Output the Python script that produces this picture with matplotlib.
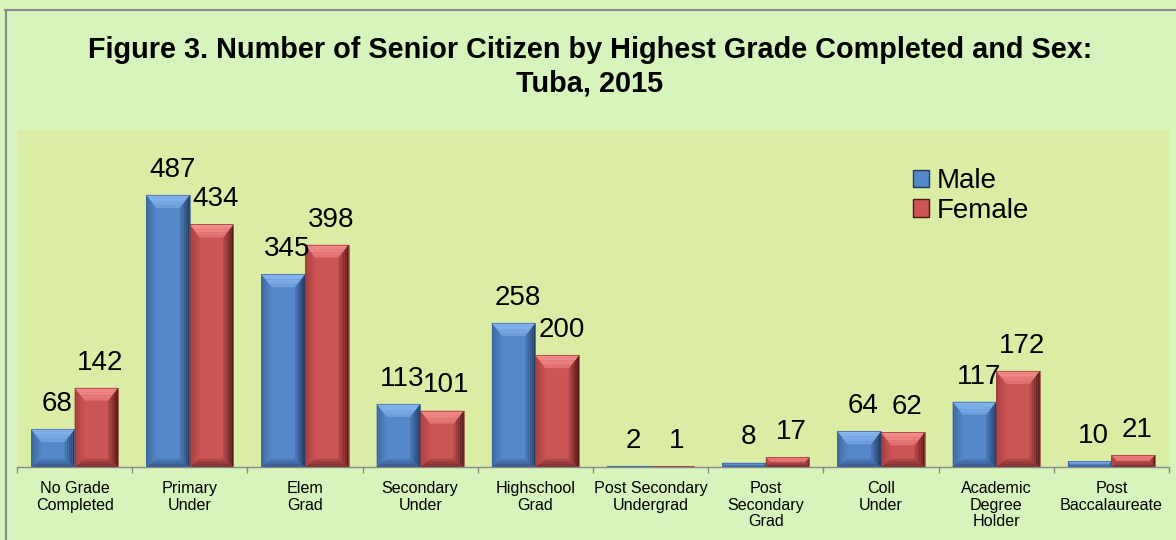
import matplotlib
matplotlib.use("Agg")
import matplotlib.pyplot as plt
from matplotlib.patches import Polygon, Rectangle
from matplotlib.lines import Line2D
from matplotlib.colors import to_rgb
import numpy as np

categories = ["No Grade\nCompleted", "Primary\nUnder", "Elem\nGrad", "Secondary\nUnder",
              "Highschool\nGrad", "Post Secondary\nUndergrad", "Post\nSecondary\nGrad",
              "Coll\nUnder", "Academic\nDegree\nHolder", "Post\nBaccalaureate"]
male = [68, 487, 345, 113, 258, 2, 8, 64, 117, 10]
female = [142, 434, 398, 101, 200, 1, 17, 62, 172, 21]
series_names = ["Male", "Female"]

title_line1 = "Figure 3. Number of Senior Citizen by Highest Grade Completed and Sex:"
title_line2 = "Tuba, 2015"

FONT = ["Liberation Sans", "DejaVu Sans"]
plt.rcParams['font.family'] = FONT

W, H = 1176, 540
fig = plt.figure(figsize=(W / 100, H / 100), dpi=100)
fig.patch.set_facecolor("#d7f4bc")

ax_left, ax_right, ax_top, ax_bot = 17, 1169, 130, 467
ax = fig.add_axes([ax_left / W, (H - ax_bot) / H, (ax_right - ax_left) / W, (ax_bot - ax_top) / H])
ax.set_facecolor("#dbeca5")

n = len(categories)
x = np.arange(n)
bw = 0.378
ymax = 603
ax.set_xlim(-0.5, n - 0.5)
ax.set_ylim(0, ymax)

# face gradients: (outer, inner)
styles = {
    "Male": dict(base="#5488c8",
                 top=("#8cbaf2", "#6c9edc"), bottom=("#2f5082", "#4a7aba"),
                 left=("#3c669c", "#5286c6"), right=("#213a60", "#4c7cba"),
                 edge="#3d6496"),
    "Female": dict(base="#cc5453",
                   top=("#f69392", "#e06e6d"), bottom=("#6c2626", "#b44848"),
                   left=("#a23f3e", "#ca5252"), right=("#4e1717", "#b84a49"),
                   edge="#943a39"),
}

px_x = (ax_right - ax_left) / n      # pixels per x unit
px_y = (ax_bot - ax_top) / ymax      # pixels per y unit
NSTRIP = 5


def mix(c1, c2, t):
    a, b = np.array(to_rgb(c1)), np.array(to_rgb(c2))
    return tuple(a + (b - a) * t)


def bevel_bar(x0, width, h, st):
    ax.bar(x0, h, width=width, align="edge", color=st["base"], edgecolor="none", zorder=2)
    hp = h * px_y
    byt_px = min(13.0, hp / 2.0)
    byb_px = min(8.0, hp / 2.0)
    bx_px = min(10.0, max(hp / 2.0, 0.8))
    dx = bx_px / px_x
    dyt = byt_px / px_y
    dyb = byb_px / px_y
    x1 = x0 + width
    for j in range(NSTRIP):
        t0, t1 = j / NSTRIP, (j + 1) / NSTRIP
        tm = (j + 0.5) / NSTRIP
        ax.add_patch(Polygon([(x0 + t0 * dx, t0 * dyb), (x0 + t1 * dx, t1 * dyb),
                              (x0 + t1 * dx, h - t1 * dyt), (x0 + t0 * dx, h - t0 * dyt)],
                             facecolor=mix(*st["left"], tm), edgecolor="none", zorder=3))
        ax.add_patch(Polygon([(x1 - t0 * dx, t0 * dyb), (x1 - t1 * dx, t1 * dyb),
                              (x1 - t1 * dx, h - t1 * dyt), (x1 - t0 * dx, h - t0 * dyt)],
                             facecolor=mix(*st["right"], tm), edgecolor="none", zorder=3))
        ax.add_patch(Polygon([(x0 + t0 * dx, h - t0 * dyt), (x1 - t0 * dx, h - t0 * dyt),
                              (x1 - t1 * dx, h - t1 * dyt), (x0 + t1 * dx, h - t1 * dyt)],
                             facecolor=mix(*st["top"], tm), edgecolor="none", zorder=3.1))
        ax.add_patch(Polygon([(x0 + t0 * dx, t0 * dyb), (x1 - t0 * dx, t0 * dyb),
                              (x1 - t1 * dx, t1 * dyb), (x0 + t1 * dx, t1 * dyb)],
                             facecolor=mix(*st["bottom"], tm), edgecolor="none", zorder=3.1))
    ax.add_patch(Rectangle((x0, 0), width, h, facecolor="none", edgecolor=st["edge"],
                           linewidth=0.5, zorder=4))


for i in range(n):
    bevel_bar(x[i] - bw, bw, male[i], styles["Male"])
    bevel_bar(x[i], bw, female[i], styles["Female"])
    ax.annotate(str(male[i]), xy=(x[i] - bw / 2, male[i]), xytext=(3, 13),
                textcoords="offset points", ha="center", va="baseline", fontsize=20, zorder=5)
    ax.annotate(str(female[i]), xy=(x[i] + bw / 2, female[i]), xytext=(3, 13),
                textcoords="offset points", ha="center", va="baseline", fontsize=20, zorder=5)

# axes styling
for s in ["top", "right", "left"]:
    ax.spines[s].set_visible(False)
ax.spines["bottom"].set_color("#8a8a8a")
ax.spines["bottom"].set_linewidth(1.0)
ax.spines["bottom"].set_zorder(6)
ax.set_yticks([])
ax.set_xticks(x)
ax.set_xticklabels(categories, fontsize=11.6, linespacing=1.15)
ax.tick_params(axis="x", which="major", length=0, pad=10)
ax.set_xticks(np.arange(-0.5, n, 1.0), minor=True)
ax.tick_params(axis="x", which="minor", length=4, color="#8a8a8a", width=1.0)

# legend
handles = [Rectangle((0, 0), 1, 1, facecolor=styles[s]["base"], edgecolor=styles[s]["right"][0],
                     linewidth=1.0) for s in series_names]
leg = ax.legend(handles, series_names, loc="center left", bbox_to_anchor=(0.778, 0.804),
                frameon=False, fontsize=20, handlelength=0.58, handleheight=0.58,
                handletextpad=0.25, labelspacing=0.12, borderpad=0, borderaxespad=0)

# title
fig.text(590 / W, 1 - 58 / H, title_line1, ha="center", va="baseline", fontsize=20.8,
         fontweight="bold")
fig.text(590 / W, 1 - 92 / H, title_line2, ha="center", va="baseline", fontsize=20.8,
         fontweight="bold")

# outer frame (top and left edges visible; image is cropped on right and bottom)
fig.add_artist(Line2D([5 / W, 1.0], [1 - 9.5 / H, 1 - 9.5 / H], transform=fig.transFigure,
                      color="#8a8a8a", linewidth=1.5))
fig.add_artist(Line2D([5.5 / W, 5.5 / W], [0.0, 1 - 9.5 / H], transform=fig.transFigure,
                      color="#8a8a8a", linewidth=1.5))

fig.savefig("out.png", dpi=100, facecolor=fig.get_facecolor())
